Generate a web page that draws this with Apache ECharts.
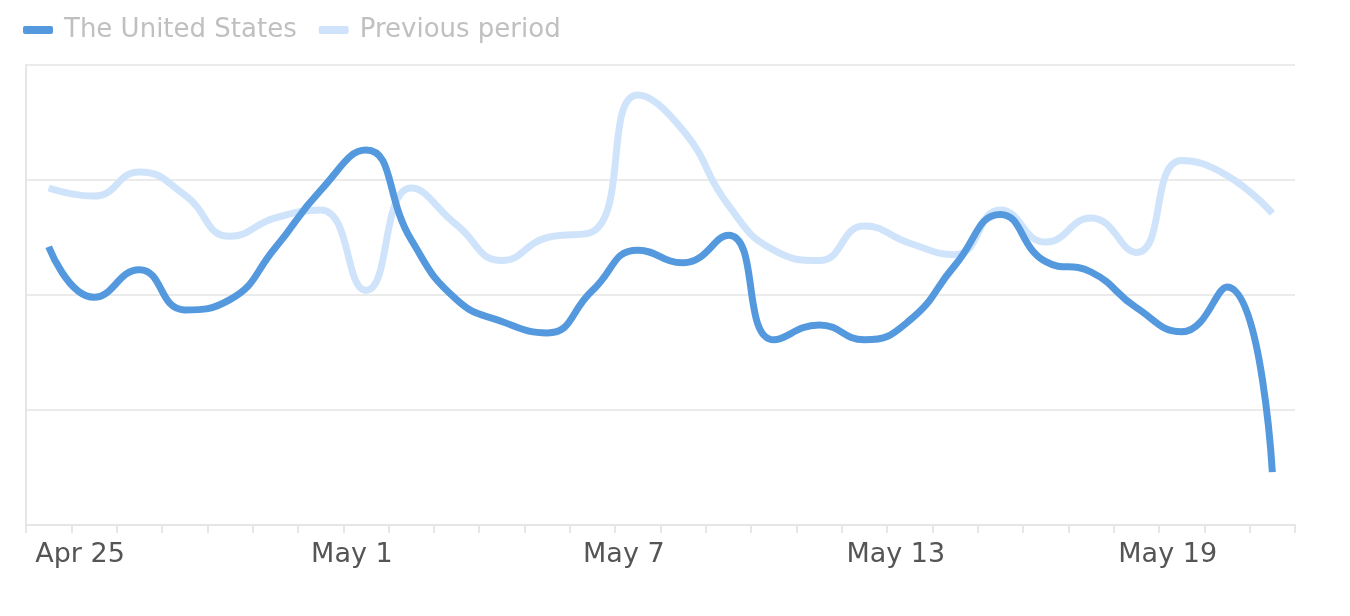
<!DOCTYPE html><html><head><meta charset="utf-8">
<script src="https://cdn.jsdelivr.net/npm/echarts@6/dist/echarts.min.js"></script>
<style>html,body{margin:0;background:#fff}#c{width:1350px;height:616px}</style></head><body><div id="c"></div>
<script>
const categories=[];
(function(){const d=new Date(2024,3,24);for(let i=0;i<28;i++){const m=d.getMonth()===3?'Apr':'May';categories.push(m+' '+d.getDate());d.setDate(d.getDate()+1);}})();
const usValues=[2.42,1.98,2.22,1.87,1.96,2.41,2.91,3.26,2.48,1.96,1.77,1.67,2.04,2.39,2.28,2.52,1.61,1.74,1.61,1.78,2.26,2.70,2.29,2.20,1.89,1.68,2.07,0.46];
const prevValues=[2.93,2.86,3.07,2.87,2.51,2.67,2.74,2.04,2.93,2.61,2.30,2.50,2.55,3.74,3.43,2.78,2.39,2.30,2.60,2.45,2.35,2.74,2.46,2.67,2.37,3.17,3.04,2.71];
const chart=echarts.init(document.getElementById('c'));
chart.setOption({
 animation:false,
 legend:{left:18,top:12,itemWidth:30,itemHeight:8,itemGap:22,icon:'roundRect',
   textStyle:{color:'#c0c0c0',fontSize:26,fontFamily:'DejaVu Sans',padding:[0,0,0,6]},
   data:['The United States','Previous period']},
 grid:{left:26,right:55,top:65,bottom:91},
 xAxis:{type:'category',data:categories,boundaryGap:true,
   axisLine:{lineStyle:{color:'#e6e6e6',width:2}},
   axisTick:{show:true,interval:0,length:8,lineStyle:{color:'#e6e6e6',width:2}},
   axisLabel:{interval:(i)=>i%6===1,color:'#555',fontSize:27,fontFamily:'DejaVu Sans',margin:16,padding:[0,28,0,0]}},
 yAxis:{type:'value',min:0,max:4,interval:1,
   axisLine:{show:true,lineStyle:{color:'#e6e6e6',width:2}},
   axisLabel:{show:false},splitLine:{lineStyle:{color:'#ebebeb',width:2}}},
 series:[
  {name:'Previous period',type:'line',data:prevValues,smooth:0.5,symbol:'none',z:1,
   lineStyle:{color:'#cfe4fb',width:7},itemStyle:{color:'#cfe4fb'}},
  {name:'The United States',type:'line',data:usValues,smooth:0.5,symbol:'none',z:2,
   lineStyle:{color:'#5499de',width:7},itemStyle:{color:'#5499de'}}
 ]
});
</script></body></html>
